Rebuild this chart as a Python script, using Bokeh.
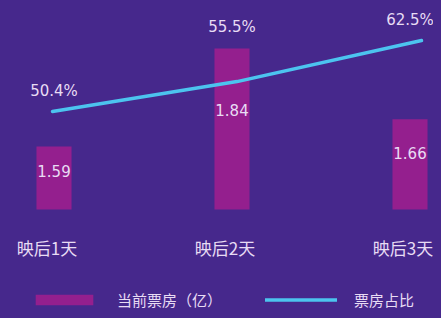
from bokeh.plotting import figure
from bokeh.models import Range1d, Legend, LegendItem, ColumnDataSource, GlobalInlineStyleSheet
from bokeh.core.properties import value
from bokeh.embed import file_html
from bokeh.resources import INLINE

# ---- data ----
categories = ["映后1天", "映后2天", "映后3天"]
box_office = [1.59, 1.84, 1.66]          # 当前票房(亿)
share = [50.4, 55.5, 62.5]               # 票房占比 (%)
bar_labels = ["1.59", "1.84", "1.66"]
share_labels = ["50.4%", "55.5%", "62.5%"]
bar_axis_min = 1.43

# ---- style ----
BG = "#46288c"
BAR = "#941f8e"
LINE = "#4cc4ef"
TXT = "#e8dcf4"
W, H = 433, 310

XR = (-0.3006, 2.132)
YR = (1.1728, 1.962)
LXR = (-0.2818, 2.065)
LYR = (16.49, 69.32)

p = figure(width=W, height=H, output_backend="svg", toolbar_location=None,
           min_border=0, x_axis_type=None, y_axis_type=None,
           x_range=Range1d(*XR), y_range=Range1d(*YR),
           background_fill_color=BG, border_fill_color=BG,
           outline_line_color=None)
p.grid.visible = False
p.extra_y_ranges = {"share": Range1d(*LYR)}
p.extra_x_ranges = {"lx": Range1d(*LXR)}
p.stylesheets = [GlobalInlineStyleSheet(css="html, body { background: %s; }" % BG)]

idx = list(range(len(categories)))

def px_bar(v):
    return (v - YR[0]) / (YR[1] - YR[0]) * H

def px_line(v):
    return (v - LYR[0]) / (LYR[1] - LYR[0]) * H

src = ColumnDataSource(dict(
    x=idx, cat=categories, top=box_office, lab=bar_labels,
    bottom=[bar_axis_min] * len(idx),
    laby=[v - 0.38 * (v - bar_axis_min) for v in box_office],
    share=share, slab=share_labels,
    sy=[LYR[0] + (max(px_bar(b), px_line(s)) + 21) / H * (LYR[1] - LYR[0])
        for b, s in zip(box_office, share)],
))

bars = p.vbar(x="x", top="top", bottom="bottom", width=0.197, source=src,
              fill_color=BAR, line_color=None)
line = p.line(x="x", y="share", source=src, line_color=LINE, line_width=3.5,
              line_cap="round", x_range_name="lx", y_range_name="share")

p.text(x="x", y="laby", text="lab", source=src, text_color=TXT,
       text_font=value("DejaVu Sans"), text_font_size="15px",
       text_align="center", text_baseline="middle")
p.text(x="x", y="sy", text="slab", source=src, text_color=TXT,
       text_font=value("DejaVu Sans"), text_font_size="15px",
       text_align="center", text_baseline="middle", y_range_name="share")
p.text(x="x", y="bottom", text="cat", source=src, text_color=TXT,
       text_font=value("Noto Sans CJK SC"), text_font_size="17px",
       text_align="center", text_baseline="middle", x_offset=-7, y_offset=38)

legend = Legend(items=[LegendItem(label="当前票房（亿）", renderers=[bars]),
                       LegendItem(label="票房占比", renderers=[line])],
                orientation="horizontal", location=(28, 0),
                glyph_width=72, glyph_height=13, label_standoff=17, spacing=43,
                padding=0, margin=0, background_fill_alpha=0,
                border_line_color=None, label_text_color=TXT,
                label_text_font="Noto Sans CJK SC", label_text_font_size="15px")
p.add_layout(legend, "center")

open("out.html", "w").write(file_html(p, INLINE))
